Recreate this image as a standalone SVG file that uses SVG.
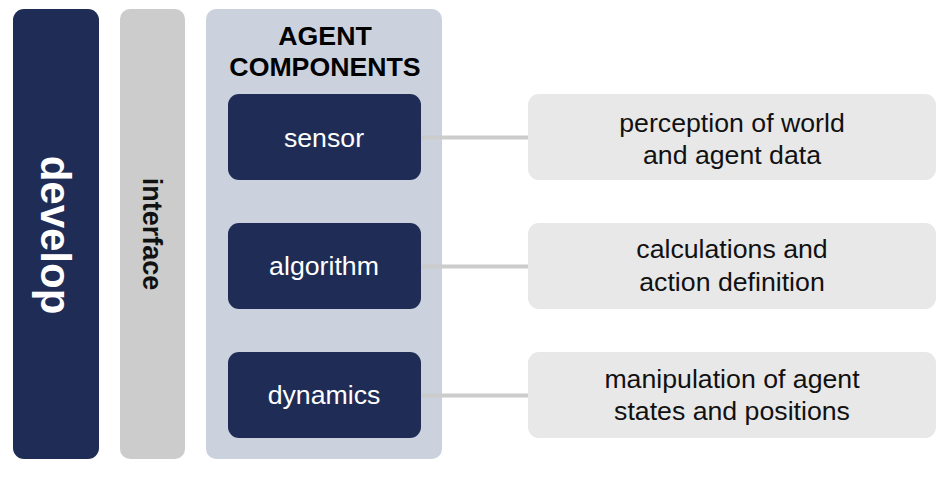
<svg xmlns="http://www.w3.org/2000/svg" width="952" height="477" viewBox="0 0 952 477">
<style>
text{font-family:"Liberation Sans",Arial,sans-serif;text-anchor:middle}
.dark{fill:#1f2d56}
.comp{fill:#ffffff;font-size:26.7px}
.desc{fill:#111111;font-size:26.7px}
.box{fill:#e8e8e8}
.conn{stroke:#cccccc;stroke-width:4;fill:none}
</style>
<rect width="952" height="477" fill="#ffffff"/>
<g id="develop">
<rect x="13" y="9" width="86" height="450" rx="11" class="dark"/>
<text transform="translate(56,235) rotate(90)" y="15" style="font-size:42px;font-weight:bold;fill:#ffffff">develop</text>
</g>
<g id="interface">
<rect x="120" y="9" width="65" height="450" rx="10" fill="#cccccc"/>
<text transform="translate(152,234) rotate(90)" y="9.5" style="font-size:27px;font-weight:bold;fill:#111111">interface</text>
</g>
<g id="agent-components">
<rect x="206" y="9" width="236" height="450" rx="10" fill="#cbd2de"/>
<text x="325" y="44.5" style="font-size:26.7px;font-weight:bold;fill:#000000">AGENT</text>
<text x="325" y="76" style="font-size:26.7px;font-weight:bold;fill:#000000">COMPONENTS</text>
</g>
<g id="connectors">
<line x1="421" y1="137.5" x2="528" y2="137.5" class="conn"/>
<line x1="421" y1="266.5" x2="528" y2="266.5" class="conn"/>
<line x1="421" y1="395.5" x2="528" y2="395.5" class="conn"/>
</g>
<g id="sensor">
<rect x="228" y="94" width="193" height="86" rx="11" class="dark"/>
<text x="324" y="147" class="comp">sensor</text>
</g>
<g id="algorithm">
<rect x="228" y="223" width="193" height="86" rx="11" class="dark"/>
<text x="324" y="275" class="comp">algorithm</text>
</g>
<g id="dynamics">
<rect x="228" y="352" width="193" height="86" rx="11" class="dark"/>
<text x="324" y="404" class="comp">dynamics</text>
</g>
<g id="perception">
<rect x="528" y="94" width="408" height="86" rx="11" class="box"/>
<text x="732" y="131.5" class="desc">perception of world</text>
<text x="732" y="164" class="desc">and agent data</text>
</g>
<g id="calculations">
<rect x="528" y="223" width="408" height="86" rx="11" class="box"/>
<text x="732" y="258" class="desc">calculations and</text>
<text x="732" y="291" class="desc">action definition</text>
</g>
<g id="manipulation">
<rect x="528" y="352" width="408" height="86" rx="11" class="box"/>
<text x="732" y="387.5" class="desc">manipulation of agent</text>
<text x="732" y="420" class="desc">states and positions</text>
</g>
</svg>
